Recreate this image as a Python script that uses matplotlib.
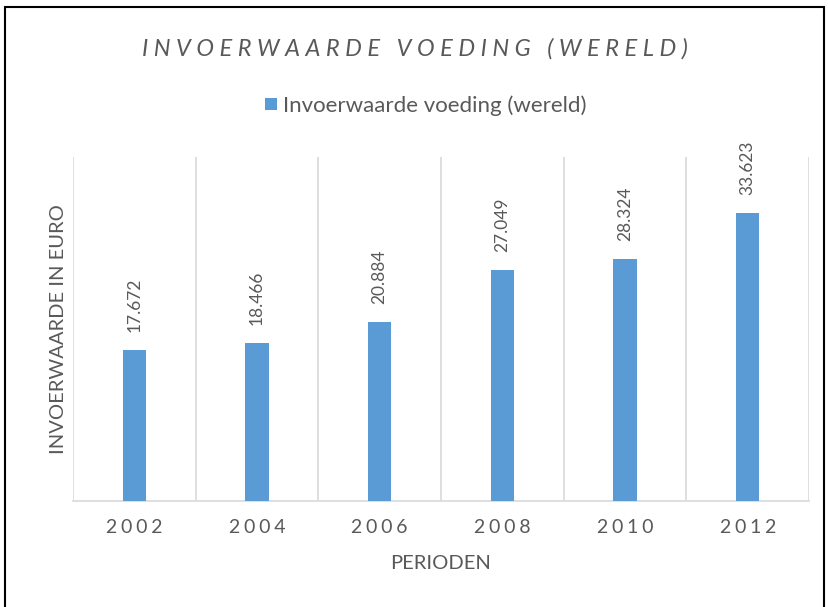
import matplotlib.pyplot as plt
from matplotlib.patches import Rectangle

# data
years = ["2002", "2004", "2006", "2008", "2010", "2012"]
values = [17.672, 18.466, 20.884, 27.049, 28.324, 33.623]
value_labels = ["17.672", "18.466", "20.884", "27.049", "28.324", "33.623"]

TITLE = "INVOERWAARDE VOEDING (WERELD)"
SERIES = "Invoerwaarde voeding (wereld)"
BAR_COLOR = "#5B9BD5"
TEXT_COLOR = "#595959"
GRID_COLOR = "#D9D9D9"
THIN = "\u2009"
HAIR = "\u200a"

plt.rcParams['font.family'] = ['Lato', 'DejaVu Sans']

fig = plt.figure(figsize=(8.29, 6.07), dpi=100)
ax = fig.add_axes([0.088, 0.175, 0.888, 0.566])

x = list(range(len(years)))
ax.bar(x, values, width=0.19, color=BAR_COLOR, label=SERIES, zorder=3)

# value labels, rotated like in the reference
for xi, v, lab in zip(x, values, value_labels):
    ax.annotate(lab, (xi, v), xytext=(0, 13), textcoords="offset points",
                rotation=90, ha="center", va="bottom", fontsize=12.5, color=TEXT_COLOR)

ax.set_xlim(-0.5, len(years) - 0.5)
ax.set_ylim(0, 40.2)
ax.set_yticks([])

# vertical separators between categories
for b in [i - 0.5 for i in range(len(years) + 1)]:
    ax.axvline(b, color=GRID_COLOR, lw=1.2, zorder=1)

ax.set_xticks(x)
ax.set_xticklabels([(THIN + HAIR).join(y) for y in years], fontsize=14, color=TEXT_COLOR)
ax.tick_params(axis="x", length=0, pad=13)
for side in ["top", "right", "left"]:
    ax.spines[side].set_visible(False)
ax.spines["bottom"].set_color(GRID_COLOR)
ax.spines["bottom"].set_linewidth(1.2)

ax.set_xlabel("PERIODEN", fontsize=14.5, color=TEXT_COLOR, labelpad=14)
ax.set_ylabel("INVOERWAARDE IN EURO", fontsize=14.5, color=TEXT_COLOR, labelpad=4)

fig.text(0.5, 0.919, (THIN * 2).join(TITLE), ha="center", va="center", fontsize=17,
         style="italic", fontweight="normal", color=TEXT_COLOR)

fig.legend(loc="center", bbox_to_anchor=(0.514, 0.826), frameon=False, fontsize=16,
           handlelength=0.5, handleheight=0.5, handletextpad=0.3, labelcolor=TEXT_COLOR)

# black frame around the chart
fig.patches.append(Rectangle((0.006, -0.05), 0.988, 1.038, transform=fig.transFigure,
                             fill=False, edgecolor="black", lw=1.5))

fig.savefig("out.png", dpi=100)
